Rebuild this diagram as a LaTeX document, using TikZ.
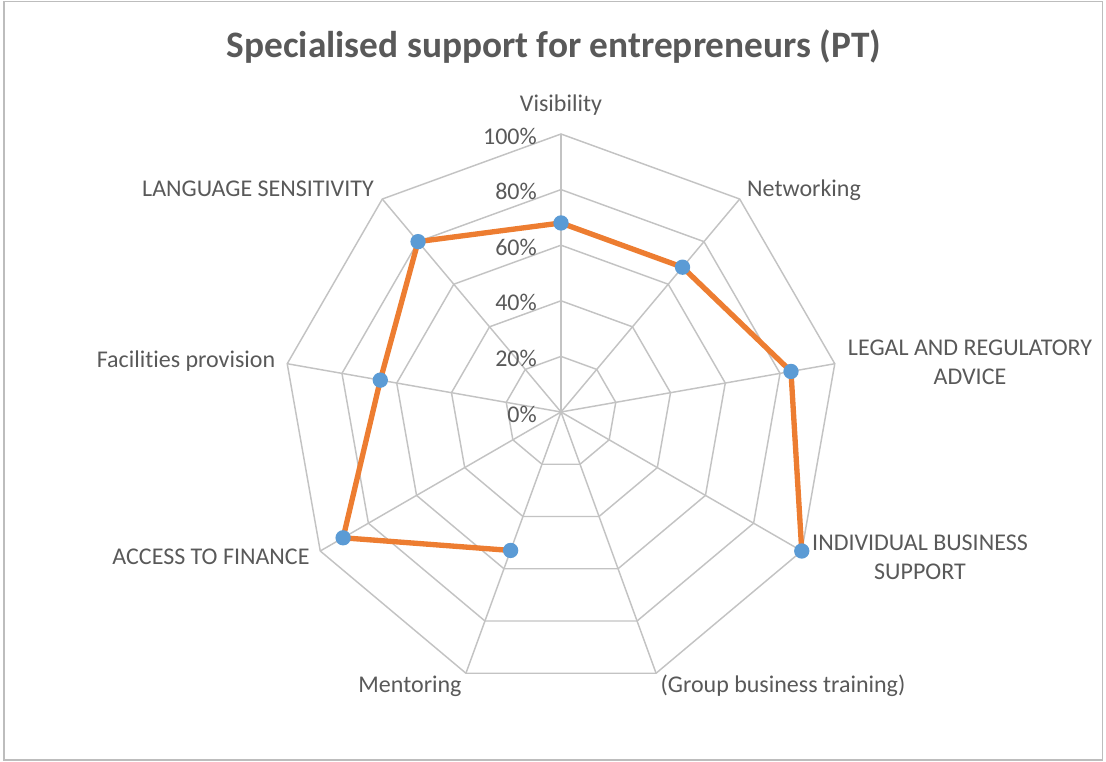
\documentclass[tikz,border=0pt]{standalone}
\usepackage{fontspec}
\setmainfont{Carlito}[Ligatures=NoCommon]
\usetikzlibrary{positioning}
\definecolor{txtgray}{HTML}{595959}
\definecolor{gridgray}{HTML}{C3C3C3}
\definecolor{frame_gray}{HTML}{BDBDBD}
\definecolor{series_orange}{HTML}{ED7D31}
\definecolor{marker_blue}{HTML}{5B9BD5}
\tikzset{grid_line/.style={draw=gridgray, line width=1.1pt},
	series_line/.style={draw=series_orange, line width=4pt, line join=round},
	chart_title/.style={text=txtgray, font=\fontsize{28}{32}\selectfont\bfseries, inner sep=0pt}
}
\tikzstyle{axis_label} = [text=txtgray, font=\fontsize{18}{22}\selectfont, align=center, inner sep=0pt]
\tikzstyle{pct_label} = [text=txtgray, font=\fontsize{18}{22}\selectfont, anchor=east, inner sep=0pt]
\tikzstyle{data_point} = [circle, fill=marker_blue, minimum size=11.5pt, inner sep=0pt]

\begin{document}
\begin{tikzpicture}[x=0.75pt, y=-0.75pt]
	\useasboundingbox (0,0) rectangle (1106,762);
	\draw[draw=frame_gray, line width=1.1pt] (4,1.5) rectangle (1102.5,760);
	
	\node[chart_title] (title) at (554,47) {Specialised support for entrepreneurs (PT)};
	
	% grid
	\coordinate (ctr) at (561,412);
	\foreach \k in {0,...,8}
		\coordinate (o\k) at ({561+278*sin(40*\k)},{412-278*cos(40*\k)});
	\foreach \r in {1,...,5}
		\draw[grid_line] (561,{412-\r*55.6}) \foreach \k in {1,...,8} { -- ({561+\r*55.6*sin(40*\k)},{412-\r*55.6*cos(40*\k)}) } -- cycle;
	\foreach \k in {0,...,8}
		\draw[grid_line] (ctr) -- (o\k);
	
	% percent labels
	\foreach \p [count=\i from 0] in {0\%,20\%,40\%,60\%,80\%,100\%}
		\node[pct_label] (p\i) at (537,{414-\i*55.6}) {\p};
	
	% axis labels
	\node[axis_label] (visibility) at (561,105) {Visibility};
	\node[axis_label] (networking) at (804,190) {Networking};
	\node[axis_label] (legal) at (970,362) {LEGAL AND REGULATORY\\ADVICE};
	\node[axis_label] (individual) at (920,557.5) {INDIVIDUAL BUSINESS\\SUPPORT};
	\node[axis_label] (group) at (783,686) {(Group business training)};
	\node[axis_label] (mentoring) at (410,686) {Mentoring};
	\node[axis_label] (finance) at (211,557) {ACCESS TO FINANCE};
	\node[axis_label] (facilities) at (186,361) {Facilities provision};
	\node[axis_label] (language) at (258,189) {LANGUAGE SENSITIVITY};
	
	% data points
	\foreach \k/\v in {0/0.68, 1/0.68, 2/0.84, 3/1.0, 5/0.53, 6/0.905, 7/0.66, 8/0.80}
		\coordinate (d\k) at ({561+278*\v*sin(40*\k)},{412-278*\v*cos(40*\k)});
	
	% draw lines
	\draw[series_line] (d0) -- (d1) -- (d2) -- (d3);
	\draw[series_line] (d5) -- (d6) -- (d7) -- (d8) -- (d0);
	\foreach \k in {0,1,2,3,5,6,7,8}
		\node[data_point] (m\k) at (d\k) {};
\end{tikzpicture}
\end{document}
